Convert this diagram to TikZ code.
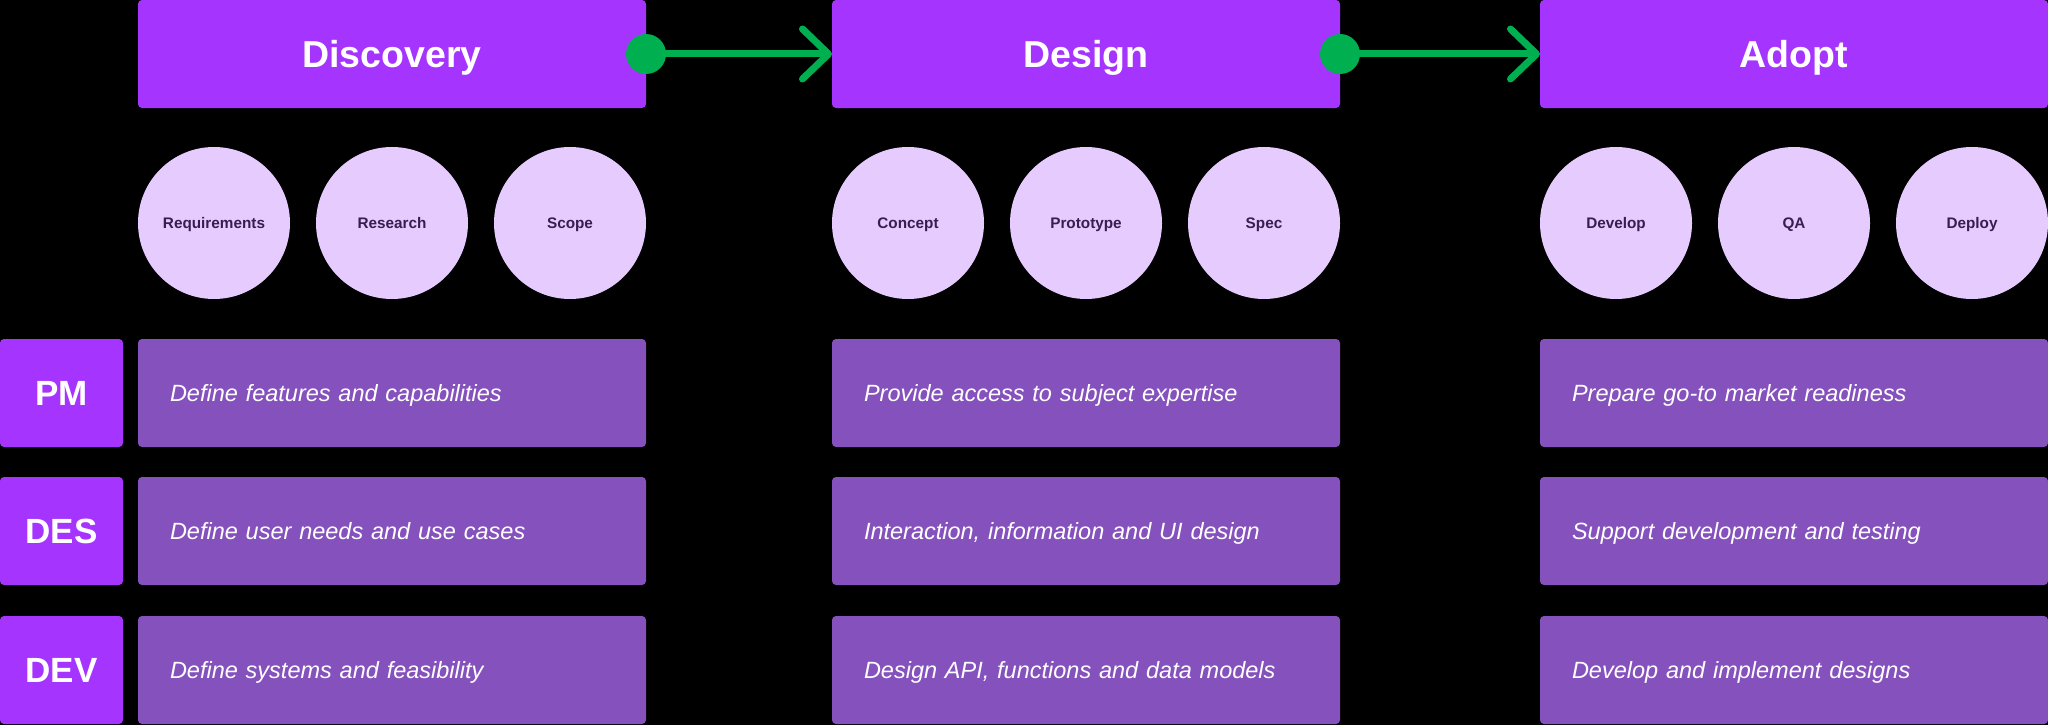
\documentclass[tikz,border=0pt]{standalone}
\usepackage{fontspec}
\setmainfont{Liberation Sans}
\usetikzlibrary{arrows.meta}
\definecolor{phasecol}{RGB}{165,52,255}
\definecolor{taskcol}{RGB}{133,81,189}
\definecolor{circcol}{RGB}{230,203,255}
\definecolor{circtext}{RGB}{58,29,79}
\definecolor{flowgreen}{RGB}{0,176,80}
\tikzset{
  phase/.style={fill=phasecol, rounded corners=4pt, minimum width=508pt, minimum height=108pt,
    inner sep=0pt, outer sep=0pt, text=white, text height=26.9pt, text depth=0pt,
    font=\bfseries\fontsize{37.5}{40}\selectfont},
  stage/.style={circle, fill=circcol, minimum size=152pt, inner sep=0pt, outer sep=0pt,
    text=circtext, text height=11pt, text depth=0pt, font=\bfseries\fontsize{15.3}{18}\selectfont},
  task/.style={fill=taskcol, rounded corners=4pt, text width=444pt, inner xsep=32pt, inner ysep=0pt,
    minimum height=108pt, outer sep=0pt, align=left, text=white, text height=16.8pt, text depth=0pt,
    font=\itshape\fontsize{23.5}{26}\selectfont},
  role/.style={fill=phasecol, rounded corners=4pt, minimum width=123pt, minimum height=108pt,
    inner sep=0pt, outer sep=0pt, text=white, text height=25pt, text depth=0pt,
    font=\bfseries\fontsize{35}{38}\selectfont},
  flow/.style={draw=flowgreen, line width=7pt, -{Straight Barb[length=26pt,width=50pt,round]}},
  flowdot/.style={fill=flowgreen}
}
\begin{document}
\begin{tikzpicture}[x=1pt,y=-1pt]
\fill[black] (0,0) rectangle (2048,725);
\useasboundingbox (0,0) rectangle (2048,725);

% phase headers
\node[phase] (disc) at (392,54) {Discovery};
\node[phase] (desg) at (1086,54) {Design};
\node[phase] (adpt) at (1794,54) {Adopt};

% connectors
\draw[flow] (disc.east) -- (desg.west);
\draw[flow] (desg.east) -- (adpt.west);
\fill[flowdot] (disc.east) circle (20pt);
\fill[flowdot] (desg.east) circle (20pt);

% stage circles
\node[stage] (req) at (214,223) {Requirements};
\node[stage] (res) at (392,223) {Research};
\node[stage] (scp) at (570,223) {Scope};
\node[stage] (con) at (908,223) {Concept};
\node[stage] (pro) at (1086,223) {Prototype};
\node[stage] (spc) at (1264,223) {Spec};
\node[stage] (dvl) at (1616,223) {Develop};
\node[stage] (qa)  at (1794,223) {QA};
\node[stage] (dpl) at (1972,223) {Deploy};

% roles
\node[role] (pm)  at (61.5,393) {PM};
\node[role] (des) at (61.5,531) {DES};
\node[role] (dev) at (61.5,670) {DEV};

% tasks
\node[task] (t11) at (392,393) {Define features and capabilities};
\node[task] (t21) at (392,531) {Define user needs and use cases};
\node[task] (t31) at (392,670) {Define systems and feasibility};
\node[task] (t12) at (1086,393) {Provide access to subject expertise};
\node[task] (t22) at (1086,531) {Interaction, information and UI design};
\node[task] (t32) at (1086,670) {Design API, functions and data models};
\node[task] (t13) at (1794,393) {Prepare go-to market readiness};
\node[task] (t23) at (1794,531) {Support development and testing};
\node[task] (t33) at (1794,670) {Develop and implement designs};
\end{tikzpicture}
\end{document}
